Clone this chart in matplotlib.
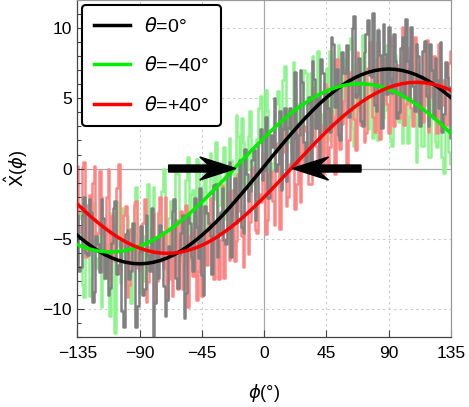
import numpy as np
import matplotlib
matplotlib.use('Agg')
import matplotlib.pyplot as plt
from matplotlib.patches import FancyArrow
from matplotlib.ticker import MultipleLocator

plt.rcParams['font.family'] = ['Liberation Sans', 'DejaVu Sans']
plt.rcParams['mathtext.fontset'] = 'dejavusans'

# fitted curves, read every 5 degrees
phi_fit = np.arange(-135, 136, 5)
fit_0 = [-4.76, -5.17, -5.54, -5.87, -6.15, -6.38, -6.56, -6.69, -6.77, -6.80,
         -6.77, -6.69, -6.56, -6.38, -6.15, -5.87, -5.54, -5.17, -4.76, -4.32,
         -3.84, -3.33, -2.79, -2.23, -1.65, -1.06, -0.46, 0.15, 0.76, 1.36,
         1.95, 2.53, 3.09, 3.63, 4.14, 4.62, 5.06, 5.47, 5.84, 6.17,
         6.45, 6.68, 6.86, 6.99, 7.07, 7.10, 7.07, 6.99, 6.86, 6.68,
         6.45, 6.17, 5.84, 5.47, 5.06]
fit_m40 = [-5.43, -5.62, -5.77, -5.88, -5.94, -5.95, -5.92, -5.84, -5.72, -5.55,
           -5.34, -5.09, -4.80, -4.48, -4.12, -3.73, -3.31, -2.86, -2.39, -1.90,
           -1.40, -0.89, -0.37, 0.16, 0.68, 1.20, 1.70, 2.20, 2.68, 3.14,
           3.58, 3.99, 4.37, 4.71, 5.02, 5.30, 5.53, 5.72, 5.87, 5.98,
           6.04, 6.05, 6.02, 5.94, 5.82, 5.65, 5.44, 5.19, 4.90, 4.58,
           4.22, 3.83, 3.41, 2.96, 2.49]
fit_p40 = [-2.53, -3.00, -3.45, -3.87, -4.26, -4.62, -4.95, -5.23, -5.48, -5.68,
           -5.84, -5.96, -6.03, -6.05, -6.03, -5.96, -5.84, -5.68, -5.48, -5.23,
           -4.95, -4.62, -4.26, -3.87, -3.45, -3.00, -2.53, -2.04, -1.53, -1.01,
           -0.48, 0.05, 0.58, 1.11, 1.63, 2.14, 2.63, 3.10, 3.55, 3.97,
           4.36, 4.72, 5.05, 5.33, 5.58, 5.78, 5.94, 6.06, 6.13, 6.15,
           6.13, 6.06, 5.94, 5.78, 5.58]

# measured (noisy) data, read at -135, -132.5, ... 135
phi_meas_a = np.arange(-135, 135.1, 2.5)
meas_0_a = [-3.3, -7.0, -2.0, -6.2, -3.1, -8.8, -5.4, -2.2, -7.8, -9.0,
            -5.3, -2.3, -6.9, -10.2, -4.7, -7.9, -3.9, -11.3, -5.9, -9.0,
            -3.3, -7.3, -12.0, -4.9, -4.0, -8.4, -9.4, -6.1, -2.2, -8.5,
            -4.6, -10.7, -3.3, -6.3, -2.1, -6.4, -7.6, -2.7, -3.9, -7.5,
            -1.1, -4.6, -1.4, -5.4, 0.5, -2.4, -3.9, 0.6, -4.6, -0.4,
            -1.6, 1.3, -2.3, 2.8, -0.1, -2.1, 2.4, 5.0, 0.3, -1.5,
            4.3, 2.9, 0.1, 6.9, 2.4, 6.2, 0.1, 5.1, 7.7, 2.9,
            0.6, 6.8, 5.4, 2.6, 8.9, 7.1, 2.0, 6.8, 8.8, 4.2,
            10.9, 5.3, 3.4, 8.3, 10.6, 6.5, 4.5, 9.9, 2.9, 8.2,
            10.1, 5.4, 7.7, 4.0, 9.4, 10.7, 4.9, 5.9, 8.9, 3.0,
            8.4, 5.2, 8.9, 3.6, 6.3, 9.0, 3.9, 6.5, 2.2]
meas_m40_a = [-6.6, -3.0, -9.2, -4.9, -7.9, -2.4, -6.4, -9.9, -4.0, -7.3,
              -3.2, -11.7, -5.5, -2.8, -8.4, -4.3, -6.6, -1.3, -8.9, -4.8,
              -3.1, -7.0, -1.3, -7.4, -3.8, 0.0, -6.0, -2.3, -7.2, -0.4,
              -3.1, -5.7, 0.8, -1.8, -4.8, 0.4, -3.2, 0.4, -4.7, -0.1,
              1.9, -2.6, 0.0, -3.6, 2.2, -0.4, 3.8, -1.6, 1.9, -0.1,
              4.1, -1.1, 2.1, 5.2, 0.6, 4.2, -0.7, 3.7, 5.5, 2.2,
              7.3, 3.2, 1.1, 5.7, 4.6, 0.7, 6.8, 3.8, 8.0, 2.9,
              4.9, 1.2, 7.2, 8.4, 3.1, 6.3, 2.4, 7.8, 4.3, 9.3,
              1.6, 7.0, 4.0, 8.6, 2.8, 5.2, 7.3, 2.0, 8.0, 4.2,
              6.0, 1.6, 8.1, 3.3, 1.8, 6.7, 3.7, 7.2, 0.5, 5.1,
              1.6, 5.8, 0.8, 4.0, 1.5, 5.6, -0.3, 3.8, 0.3]
meas_p40_a = [0.2, -4.2, 0.5, -2.6, -5.8, 0.2, -4.6, -2.0, -7.3, 0.0,
              -3.4, -6.6, 0.3, -5.5, -2.7, -8.3, -4.7, -2.3, -7.3, -3.9,
              -9.5, -5.6, -3.2, -8.0, -2.0, -7.1, -9.4, -4.3, -5.5, -8.6,
              -3.0, -6.8, -9.9, -4.4, -3.4, -7.3, -9.1, -4.5, -3.2, -7.5,
              -3.9, -7.9, -1.2, -5.0, -6.5, -1.5, -5.2, -3.0, -7.0, -1.4,
              -3.8, 0.1, -4.6, -2.4, 1.1, -3.7, -0.2, -4.0, 1.2, -1.3,
              3.1, -2.0, 0.5, -2.9, 3.0, -0.2, 2.7, -1.1, 5.8, 1.6,
              4.0, -0.4, 5.8, 1.5, 3.7, 7.8, 1.4, 4.8, 0.3, 6.9,
              3.5, 8.3, 3.1, 1.9, 7.2, 5.6, 2.6, 9.0, 4.4, 7.2,
              2.5, 8.8, 6.7, 3.6, 10.1, 4.6, 7.8, 3.0, 8.5, 6.3,
              3.3, 9.2, 5.1, 8.0, 2.5, 7.5, 6.3, 3.2, 8.4]

# measured data in between, read at -133.75, -131.25, ... 133.75
phi_meas_b = np.arange(-133.75, 134, 2.5)
meas_0_b = [-7.3, -3.3, -6.0, -2.2, -9.5, -4.8, -7.4, -3.5, -5.9, -8.5,
            -2.8, -7.5, -5.2, -11.3, -4.4, -7.3, -5.7, -9.8, -4.1, -8.6,
            -6.2, -2.8, -9.6, -7.8, -4.5, -10.5, -5.5, -3.0, -7.8, -6.2,
            -3.3, -8.9, -3.9, -7.3, -4.2, -1.4, -9.0, -3.2, -4.8, -1.2,
            -6.3, -3.1, -5.1, 0.1, -6.3, -0.7, -1.9, -4.2, 1.4, -2.3,
            0.6, -3.7, 1.9, -0.8, 3.7, -2.1, 1.5, -0.2, 4.1, 2.8,
            -0.9, 4.3, 2.2, 0.2, 7.0, 1.9, 4.7, 0.0, 6.4, 5.0,
            7.8, 2.7, 4.3, 9.4, 4.4, 2.4, 8.3, 6.8, 3.7, 10.0,
            5.1, 7.9, 3.0, 9.6, 6.7, 11.1, 4.1, 8.1, 10.3, 5.3,
            6.4, 9.6, 3.6, 8.6, 5.1, 7.7, 10.1, 4.1, 8.0, 6.1,
            9.1, 3.0, 7.0, 7.9, 4.3, 2.6, 7.6, 5.8]
meas_m40_b = [-3.5, -8.3, -4.6, -9.1, -2.8, -7.1, -3.7, -7.9, -5.4, -10.5,
              -4.3, -2.3, -8.2, -6.3, -3.4, -9.6, -2.4, -6.6, -5.0, -8.0,
              -1.1, -5.8, -8.0, -3.1, -1.6, -6.8, -3.5, -5.8, -0.3, -6.7,
              -3.4, -0.8, -6.5, -1.5, 0.7, -3.8, -1.7, -4.5, 1.1, -2.2,
              -4.5, 0.4, 1.5, -2.3, 0.6, -3.5, 2.3, 3.6, -1.3, 2.3,
              0.4, -2.0, 4.3, 0.7, 5.6, 2.4, 0.4, 4.6, -0.7, 6.3,
              4.2, 1.9, 7.6, 3.2, 1.2, 7.0, 4.2, 6.8, 2.3, 8.4,
              3.9, 6.2, 2.0, 7.8, 5.4, 8.8, 3.5, 5.1, 8.5, 2.9,
              7.4, 4.2, 9.5, 3.4, 6.2, 2.2, 7.9, 6.8, 3.6, 8.8,
              2.1, 6.6, 4.6, 7.9, 3.1, 1.8, 6.5, 3.7, 7.4, 1.6,
              4.5, 0.8, 5.9, 1.9, 6.3, 0.8, 3.5, 1.2]
meas_p40_b = [-4.6, 0.1, -6.3, -1.9, -1.0, -5.8, -0.2, -4.7, -2.0, -7.9,
              -4.0, -1.4, -7.5, -3.3, -9.2, -4.3, -2.6, -7.1, -5.3, -2.2,
              -8.1, -4.3, -9.5, -3.2, -6.6, -2.0, -7.9, -9.1, -3.7, -5.2,
              -8.6, -2.6, -4.8, -7.7, -9.4, -3.0, -5.1, -6.9, -2.1, -7.9,
              -3.3, -5.1, -7.8, -1.7, -3.3, -6.6, -0.4, -4.8, -1.4, -6.1,
              -0.5, -4.4, -1.8, 1.0, -4.7, -0.4, -2.3, 1.8, -4.3, 1.2,
              -2.7, 0.3, 3.9, -1.1, -2.4, 3.0, 1.9, -1.1, 4.8, 0.1,
              3.1, 6.0, 0.4, 4.2, -0.4, 5.6, 3.2, 7.2, 2.0, 5.3,
              1.3, 7.2, 4.5, 2.5, 9.0, 3.7, 6.3, 2.1, 7.9, 4.6,
              9.4, 3.0, 7.4, 5.3, 3.1, 8.6, 4.3, 9.4, 4.0, 6.6,
              8.8, 2.6, 7.2, 4.0, 8.9, 4.5, 3.1, 7.5]

labels = [r'$\theta$=0°', r'$\theta$=−40°', r'$\theta$=+40°']
xticks = [-135, -90, -45, 0, 45, 90, 135]
yticks = [-10, -5, 0, 5, 10]

# arrows marking the zero crossings (tail, tip)
arrow_left = (-69, -20.5)
arrow_right = (70, 20.5)


def merge(xa, ya, xb, yb):
    # interleave the two sets of readings into one trace
    x = np.concatenate([xa, xb])
    y = np.concatenate([ya, yb])
    order = np.argsort(x)
    return x[order], y[order]


fig = plt.figure(figsize=(4.69, 4.07), dpi=100)
ax = fig.add_axes([0.1648, 0.1727, 0.7968, 0.8265])

# grid
for v in [-90, -45, 45, 90]:
    ax.axvline(v, color='#c8c8c8', lw=0.8, ls=(0, (2, 3)), zorder=0)
for v in [-10, -5, 5, 10]:
    ax.axhline(v, color='#c8c8c8', lw=0.8, ls=(0, (2, 3)), zorder=0)
ax.axvline(0, color='#a8a8a8', lw=0.9, zorder=0)
ax.axhline(0, color='#a8a8a8', lw=0.9, zorder=0)

# noisy data
x, y = merge(phi_meas_a, meas_m40_a, phi_meas_b, meas_m40_b)
ax.plot(x, y, color='#8ef58e', lw=1.8, drawstyle='steps-mid', zorder=1)
x, y = merge(phi_meas_a, meas_p40_a, phi_meas_b, meas_p40_b)
ax.plot(x, y, color='#ff8585', lw=1.8, drawstyle='steps-mid', zorder=1)
x, y = merge(phi_meas_a, meas_0_a, phi_meas_b, meas_0_b)
ax.plot(x, y, color='#808080', lw=1.8, drawstyle='steps-mid', zorder=1)

# fits
ax.plot(phi_fit, fit_0, color='black', lw=2.5, zorder=3, label=labels[0])
ax.plot(phi_fit, fit_m40, color='#00ee00', lw=2.5, zorder=3, label=labels[1])
ax.plot(phi_fit, fit_p40, color='#ff0000', lw=2.5, zorder=3, label=labels[2])

for tail, tip in [arrow_left, arrow_right]:
    ax.add_patch(FancyArrow(tail, 0, tip - tail, 0, width=0.5, head_width=1.65,
                            head_length=26, length_includes_head=True,
                            overhang=0.25, color='black', zorder=5))

ax.set_xlim(-135, 135)
ax.set_ylim(-12, 12)
ax.set_xticks(xticks)
ax.set_xticklabels([str(t).replace('-', '−') for t in xticks])
ax.set_yticks(yticks)
ax.set_yticklabels([str(t).replace('-', '−') for t in yticks])
ax.yaxis.set_minor_locator(MultipleLocator(1))
ax.tick_params(which='both', direction='in', color='#444444', width=0.8,
               labelsize=12.5, top=False, right=False)
ax.tick_params(axis='x', which='major', length=5, pad=7)
ax.tick_params(axis='y', which='major', length=5, pad=4)
ax.tick_params(which='minor', length=3)

for s in ['left', 'bottom']:
    ax.spines[s].set_color('#444444')
    ax.spines[s].set_linewidth(0.9)
for s in ['top', 'right']:
    ax.spines[s].set_color('#999999')
    ax.spines[s].set_linewidth(0.9)

ax.set_xlabel(r'$\phi$(°)', fontsize=13)
ax.xaxis.set_label_coords(0.5, -0.167)
ax.xaxis.label.set_va('center')
ax.set_ylabel(r'$\hat{\mathrm{X}}$($\phi$)', fontsize=13)
ax.yaxis.set_label_coords(-0.164, 0.5)
ax.yaxis.label.set_va('center')

leg = ax.legend(loc='upper left', bbox_to_anchor=(0.0126, 0.986), borderaxespad=0,
                fontsize=14, handlelength=1.85, handletextpad=0.75, labelspacing=1.05,
                borderpad=0.6, fancybox=True, framealpha=1, edgecolor='black')
leg.get_frame().set_linewidth(1.5)

fig.savefig('out.png', dpi=100)
